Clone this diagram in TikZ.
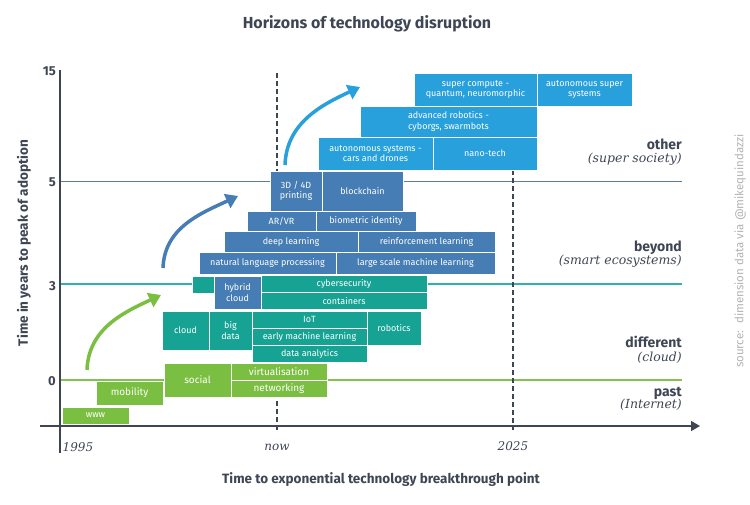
\documentclass[tikz,border=0pt]{standalone}
\usepackage{fontspec}
\newfontfamily\fira{Fira Sans}
\newfontfamily\slab{DejaVu Serif}
\usepackage{tikz}
\usetikzlibrary{arrows.meta,positioning}
\usepackage{xcolor}
\definecolor{cgreen}{RGB}{122,190,66}
\definecolor{cteal}{RGB}{22,163,148}
\definecolor{cblue}{RGB}{70,125,180}
\definecolor{clight}{RGB}{40,160,220}
\definecolor{cslate}{RGB}{62,70,84}
\definecolor{cfive}{RGB}{90,125,160}
\definecolor{cthree}{RGB}{50,175,175}
\definecolor{czero}{RGB}{130,195,80}
\definecolor{csource}{RGB}{178,178,178}

\begin{document}
\begin{tikzpicture}[x=1pt, y=-1pt,
    tech/.style={rectangle, draw=white, line width=1pt, text=white, inner sep=0pt,
        align=center, font=\fira\fontsize{9}{10.5}\selectfont},
    older/.style={tech, fill=cgreen, font=\fira\fontsize{10}{11}\selectfont},
    level/.style={line width=1.4pt},
    marker/.style={dashed, dash pattern=on 5pt off 3pt, line width=1.4pt, cslate},
    jump/.style={line width=3.5pt, -{Triangle[length=12pt, width=15pt]}},
    horizon/.style={anchor=base east, text=cslate, inner sep=0pt, font=\fira\bfseries\fontsize{14}{15}\selectfont},
    horizonsub/.style={anchor=base east, text=cslate, inner sep=0pt, font=\slab\itshape\fontsize{12.5}{14}\selectfont},
    year/.style={anchor=base, text=cslate, inner sep=0pt, font=\slab\itshape\fontsize{12}{13}\selectfont},
    tick/.style={anchor=east, text=cslate, inner sep=0pt, font=\fira\bfseries\fontsize{13}{14}\selectfont}]

    \useasboundingbox (0,0) rectangle (750,504);

    % Axes and levels
    \coordinate (ytop) at (60,70);
    \coordinate (ybot) at (60,453);
    \coordinate (xleft) at (40,426);
    \coordinate (xright) at (700,426);
    \draw[level, cfive] (60,181.5) coordinate (l5a) -- (682,181.5) coordinate (l5b);
    \draw[level, cthree] (60,284) coordinate (l3a) -- (682,284) coordinate (l3b);
    \draw[level, czero] (60,380) coordinate (l0a) -- (682,380) coordinate (l0b);
    \draw[marker] (277,73) coordinate (nowtop) -- (277,430) coordinate (nowbot);
    \draw[marker] (513,106) coordinate (futtop) -- (513,430) coordinate (futbot);
    \draw[line width=1.6pt, cslate] (ytop) -- (ybot);
    \draw[line width=1.6pt, cslate, -{Triangle[length=9pt, width=10pt]}] (xleft) -- (xright);

    % Past
    \node[older, minimum width=67, minimum height=17, font=\fira\fontsize{9}{10}\selectfont] (www) at (95.5,415.5) {www};
    \node[older, minimum width=67, minimum height=24] (mobility) at (129.5,393) {mobility};
    \node[older, minimum width=67, minimum height=34] (social) at (197.5,380) {social};
    \node[older, minimum width=96, minimum height=17] (virt) at (279,371.5) {virtualisation};
    \node[older, minimum width=96, minimum height=17] (netw) at (279,388.5) {networking};

    % Different
    \node[tech, fill=cteal, minimum width=47, minimum height=39] (cloud) at (185.5,330.5) {cloud};
    \node[tech, fill=cteal, minimum width=43, minimum height=39] (bigdata) at (230.5,330.5) {big\\data};
    \node[tech, fill=cteal, minimum width=115, minimum height=17] (iot) at (309.5,319.5) {IoT};
    \node[tech, fill=cteal, minimum width=115, minimum height=17] (eml) at (309.5,336.5) {early machine learning};
    \node[tech, fill=cteal, minimum width=115, minimum height=17] (analytics) at (309.5,353.5) {data analytics};
    \node[tech, fill=cteal, minimum width=54, minimum height=34] (robotics) at (394,328) {robotics};
    \node[tech, fill=cteal, minimum width=22, minimum height=17] (spare) at (203,284.5) {};
    \node[tech, fill=cteal, minimum width=166, minimum height=17] (cyber) at (344,284) {cybersecurity};
    \node[tech, fill=cteal, minimum width=166, minimum height=17] (containers) at (344,301) {containers};

    % Beyond
    \node[tech, fill=cblue, minimum width=47, minimum height=33.5] (hybrid) at (237.5,292.75) {hybrid\\cloud};
    \node[tech, fill=cblue, minimum width=137, minimum height=22] (nlp) at (267.5,263) {natural language processing};
    \node[tech, fill=cblue, minimum width=159, minimum height=22] (lsml) at (415.5,263) {large scale machine learning};
    \node[tech, fill=cblue, minimum width=134, minimum height=21] (deep) at (291,241.5) {deep learning};
    \node[tech, fill=cblue, minimum width=137, minimum height=21] (reinf) at (426.5,241.5) {reinforcement learning};
    \node[tech, fill=cblue, minimum width=69, minimum height=20] (arvr) at (281.5,221) {AR/VR};
    \node[tech, fill=cblue, minimum width=100, minimum height=20] (biom) at (366,221) {biometric identity};
    \node[tech, fill=cblue, minimum width=52, minimum height=40] (print) at (296,191) {3D / 4D\\printing};
    \node[tech, fill=cblue, minimum width=81, minimum height=40] (chain) at (362.5,191) {blockchain};

    % Other
    \node[tech, fill=clight, minimum width=115, minimum height=33] (autosys) at (375.5,153.5) {autonomous systems -\\cars and drones};
    \node[tech, fill=clight, minimum width=104, minimum height=33] (nano) at (485,153.5) {nano-tech};
    \node[tech, fill=clight, minimum width=177, minimum height=31] (advrob) at (448.5,121.5) {advanced robotics -\\cyborgs, swarmbots};
    \node[tech, fill=clight, minimum width=123, minimum height=33] (supcomp) at (475.5,89.5) {super compute -\\quantum, neuromorphic};
    \node[tech, fill=clight, minimum width=95, minimum height=33] (supsys) at (584.5,89.5) {autonomous super\\systems};

    % Jumps
    \coordinate (g1) at (87,370);
    \coordinate (g2) at (161,295);
    \coordinate (b1) at (163,268);
    \coordinate (b2) at (238,196);
    \coordinate (c1) at (285,165);
    \coordinate (c2) at (360,87);
    \draw[jump, cgreen] (g1) to[out=88, in=205] (g2);
    \draw[jump, cblue] (b1) to[out=88, in=205] (b2);
    \draw[jump, clight] (c1) to[out=88, in=205] (c2);

    % Labels
    \node[text=cslate, font=\fira\bfseries\fontsize{16}{18}\selectfont] (title) at (367,24) {Horizons of technology disruption};
    \node[text=cslate, rotate=90, font=\fira\bfseries\fontsize{13.5}{15}\selectfont] (ylabel) at (24,243) {Time in years to peak of adoption};
    \node[text=cslate, font=\fira\bfseries\fontsize{13.5}{15}\selectfont] (xlabel) at (381,480) {Time to exponential technology breakthrough point};
    \node[tick] (t15) at (56,71) {15};
    \node[tick] (t5) at (56,182) {5};
    \node[tick] (t3) at (56,286) {3};
    \node[tick] (t0) at (56,381) {0};
    \node[year] (y1995) at (78,451) {1995};
    \node[year] (ynow) at (277,450) {now};
    \node[year] (y2025) at (513,450) {2025};
    \node[horizon] (other) at (682,149) {other};
    \node[horizonsub] (othersub) at (682,162) {(super society)};
    \node[horizon] (beyond) at (682,251) {beyond};
    \node[horizonsub] (beyondsub) at (682,264) {(smart ecosystems)};
    \node[horizon] (diff) at (682,347) {different};
    \node[horizonsub] (diffsub) at (682,361) {(cloud)};
    \node[horizon] (past) at (682,396) {past};
    \node[horizonsub] (pastsub) at (682,408) {(Internet)};
    \node[text=csource, rotate=90, font=\fira\fontsize{11.5}{13}\selectfont] (source) at (740,251) {source:~ dimension data via @mikequindazzi};
\end{tikzpicture}
\end{document}
